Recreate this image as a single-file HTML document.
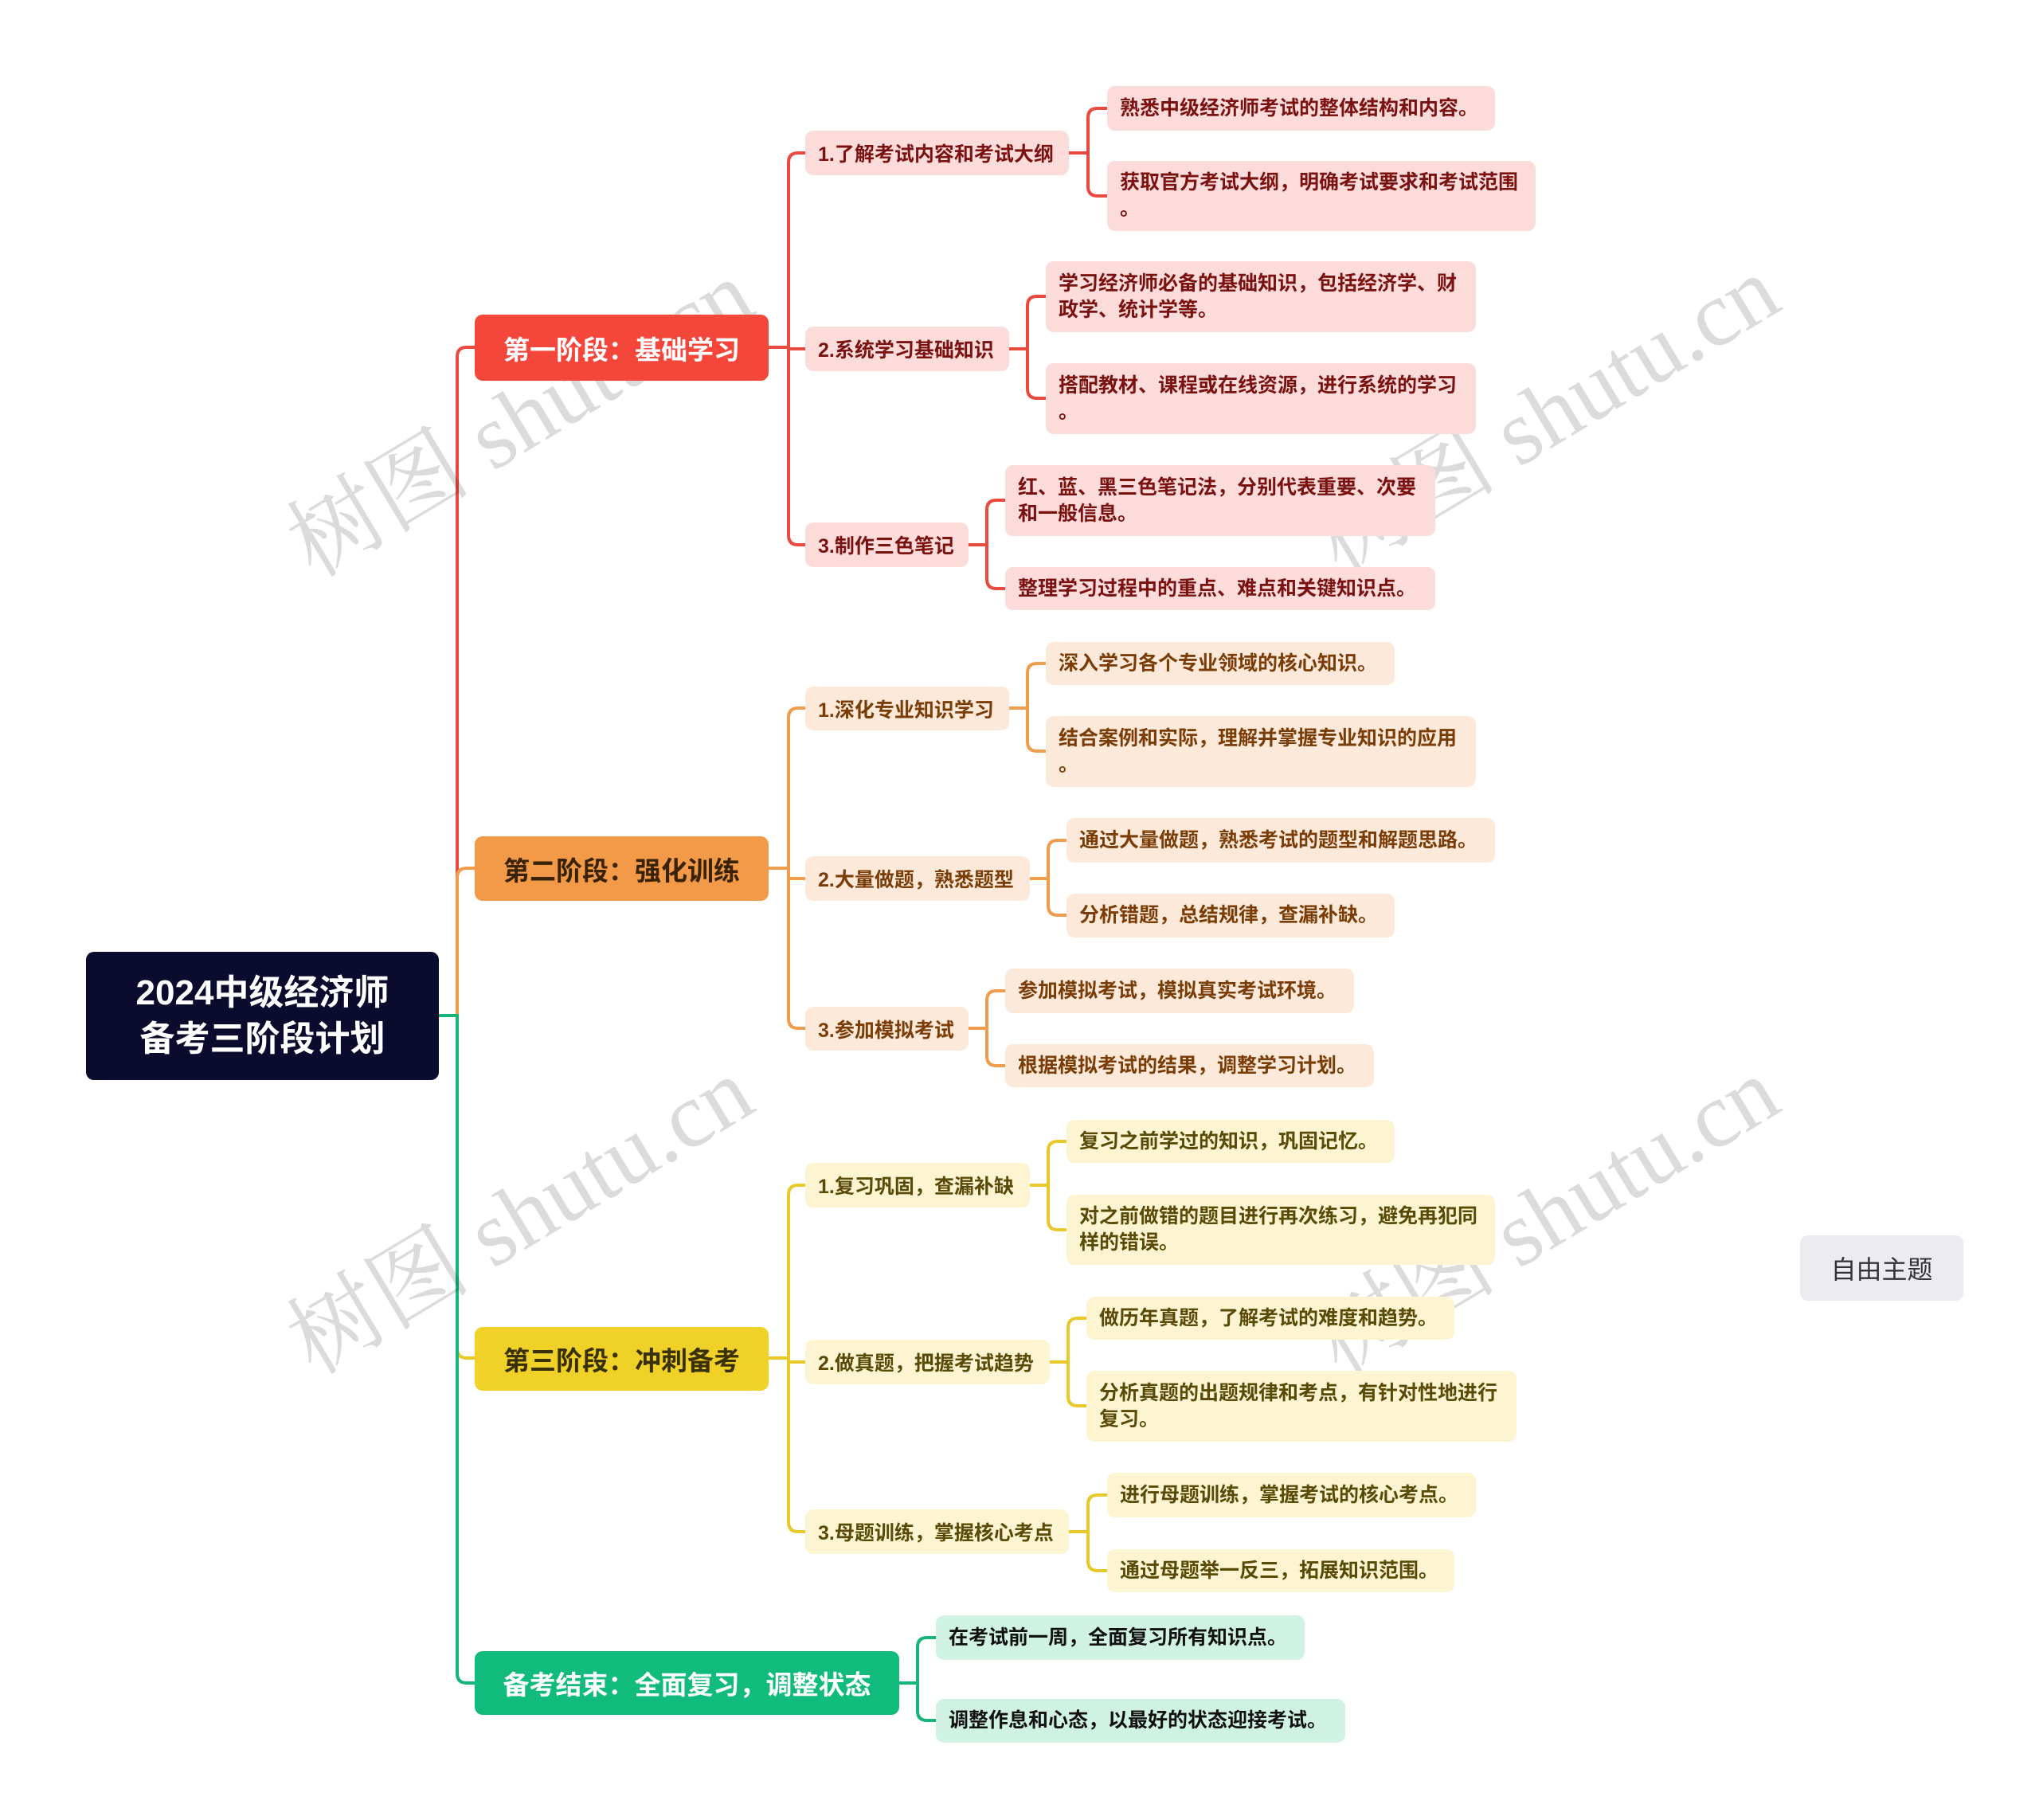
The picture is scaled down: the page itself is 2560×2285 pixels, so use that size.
<!DOCTYPE html>
<html><head><meta charset="utf-8"><style>
body{margin:0;width:2560px;height:2285px;background:#fff;position:relative;overflow:hidden;font-family:"Liberation Sans","Noto Sans CJK SC",sans-serif;}
.n{position:absolute;box-sizing:border-box;border-radius:10px;font-weight:bold;display:flex;align-items:center;white-space:nowrap;}
.l{font-size:25px;padding-left:16px;line-height:33px;white-space:normal;}
.k{font-size:25px;padding-left:16px;}
.s{font-size:33px;justify-content:center;color:#fff;}
.r1{background:#fcdcda;color:#7a1212}
.r2{background:#fde9d9;color:#7a3d08}
.r3{background:#fdf5d2;color:#5a4a08}
.r4{background:#d0f2e2;color:#111}
.wm{position:absolute;font-family:"Liberation Serif","Noto Serif CJK SC",serif;font-size:116px;color:rgba(0,0,0,0.14);transform:translate(-50%,-50%) rotate(-31deg);white-space:nowrap;}
</style></head><body>
<svg width="2560" height="2285" style="position:absolute;left:0;top:0" fill="none" stroke-width="4">
<g stroke="#e84a40">
<path d="M551 1275 H574 V448 Q574 436 586 436 H596"/>
<path d="M965 436 H990"/>
<path d="M990 436 V204 Q990 192 1002 192 H1011"/>
<path d="M990 436 V438 H1011"/>
<path d="M990 436 V672 Q990 684 1002 684 H1011"/>
<path d="M1342 192 H1366 V148 Q1366 136 1378 136 H1390 M1366 192 V234 Q1366 246 1378 246 H1390"/>
<path d="M1267 438 H1290 V384 Q1290 372 1302 372 H1313 M1290 438 V488 Q1290 500 1302 500 H1313"/>
<path d="M1216 684 H1239 V640 Q1239 628 1251 628 H1262 M1239 684 V727 Q1239 739 1251 739 H1262"/>
</g>
<g stroke="#ef9d4c">
<path d="M574 1275 V1102 Q574 1090 586 1090 H596"/>
<path d="M965 1090 H990 V901 Q990 889 1002 889 H1011 M990 1090 V1103 H1011 M990 1090 V1279 Q990 1291 1002 1291 H1011"/>
<path d="M1267 889 H1290 V845 Q1290 833 1302 833 H1313 M1290 889 V931 Q1290 943 1302 943 H1313"/>
<path d="M1293 1103 H1316 V1067 Q1316 1055 1328 1055 H1339 M1316 1103 V1137 Q1316 1149 1328 1149 H1339"/>
<path d="M1216 1291 H1239 V1256 Q1239 1244 1251 1244 H1262 M1239 1291 V1326 Q1239 1338 1251 1338 H1262"/>
</g>
<g stroke="#e9c82a">
<path d="M574 1275 V1693 Q574 1705 586 1705 H596"/>
<path d="M965 1705 H990 V1500 Q990 1488 1002 1488 H1011 M990 1705 V1710 H1011 M990 1705 V1911 Q990 1923 1002 1923 H1011"/>
<path d="M1293 1488 H1316 V1445 Q1316 1433 1328 1433 H1339 M1316 1488 V1532 Q1316 1544 1328 1544 H1339"/>
<path d="M1318 1710 H1341 V1667 Q1341 1655 1353 1655 H1364 M1341 1710 V1753 Q1341 1765 1353 1765 H1364"/>
<path d="M1342 1923 H1366 V1889 Q1366 1877 1378 1877 H1390 M1366 1923 V1960 Q1366 1972 1378 1972 H1390"/>
</g>
<g stroke="#17b57a">
<path d="M551 1275 H574 V2101 Q574 2113 586 2113 H596"/>
<path d="M1129 2113 H1152 V2068 Q1152 2056 1164 2056 H1175 M1152 2113 V2148 Q1152 2160 1164 2160 H1175"/>
</g>
</svg>

<div class="wm" style="left:648px;top:517px">树图 shutu.cn</div>
<div class="wm" style="left:1936px;top:512px">树图 shutu.cn</div>
<div class="wm" style="left:648px;top:1518px">树图 shutu.cn</div>
<div class="wm" style="left:1936px;top:1518px">树图 shutu.cn</div>

<div class="n" style="left:108px;top:1195px;width:443px;height:161px;background:#0b0b2e;color:#fff;font-size:44px;justify-content:center;text-align:center;line-height:58px;white-space:normal">2024中级经济师<br>备考三阶段计划</div>

<div class="n s" style="left:596px;top:395px;width:369px;height:83px;background:#f5463c">第一阶段：基础学习</div>
<div class="n s" style="left:596px;top:1050px;width:369px;height:81px;background:#f39a48;color:#3a2206">第二阶段：强化训练</div>
<div class="n s" style="left:596px;top:1666px;width:369px;height:80px;background:#f0d128;color:#3a3006">第三阶段：冲刺备考</div>
<div class="n s" style="left:596px;top:2073px;width:533px;height:80px;background:#10bb7c">备考结束：全面复习，调整状态</div>

<div class="n k r1" style="left:1011px;top:164px;width:331px;height:56px">1.了解考试内容和考试大纲</div>
<div class="n k r1" style="left:1011px;top:410px;width:256px;height:56px">2.系统学习基础知识</div>
<div class="n k r1" style="left:1011px;top:656px;width:205px;height:56px">3.制作三色笔记</div>
<div class="n l r1" style="left:1390px;top:108px;width:487px;height:56px">熟悉中级经济师考试的整体结构和内容。</div>
<div class="n l r1" style="left:1390px;top:202px;width:538px;height:88px">获取官方考试大纲，明确考试要求和考试范围<br>。</div>
<div class="n l r1" style="left:1313px;top:328px;width:540px;height:89px">学习经济师必备的基础知识，包括经济学、财<br>政学、统计学等。</div>
<div class="n l r1" style="left:1313px;top:456px;width:540px;height:89px">搭配教材、课程或在线资源，进行系统的学习<br>。</div>
<div class="n l r1" style="left:1262px;top:584px;width:540px;height:89px">红、蓝、黑三色笔记法，分别代表重要、次要<br>和一般信息。</div>
<div class="n l r1" style="left:1262px;top:712px;width:540px;height:54px">整理学习过程中的重点、难点和关键知识点。</div>

<div class="n k r2" style="left:1011px;top:862px;width:256px;height:55px">1.深化专业知识学习</div>
<div class="n k r2" style="left:1011px;top:1075px;width:282px;height:56px">2.大量做题，熟悉题型</div>
<div class="n k r2" style="left:1011px;top:1264px;width:205px;height:55px">3.参加模拟考试</div>
<div class="n l r2" style="left:1313px;top:806px;width:438px;height:54px">深入学习各个专业领域的核心知识。</div>
<div class="n l r2" style="left:1313px;top:899px;width:540px;height:89px">结合案例和实际，理解并掌握专业知识的应用<br>。</div>
<div class="n l r2" style="left:1339px;top:1027px;width:538px;height:56px">通过大量做题，熟悉考试的题型和解题思路。</div>
<div class="n l r2" style="left:1339px;top:1122px;width:412px;height:55px">分析错题，总结规律，查漏补缺。</div>
<div class="n l r2" style="left:1262px;top:1216px;width:438px;height:56px">参加模拟考试，模拟真实考试环境。</div>
<div class="n l r2" style="left:1262px;top:1311px;width:463px;height:54px">根据模拟考试的结果，调整学习计划。</div>

<div class="n k r3" style="left:1011px;top:1460px;width:282px;height:56px">1.复习巩固，查漏补缺</div>
<div class="n k r3" style="left:1011px;top:1682px;width:307px;height:56px">2.做真题，把握考试趋势</div>
<div class="n k r3" style="left:1011px;top:1895px;width:331px;height:56px">3.母题训练，掌握核心考点</div>
<div class="n l r3" style="left:1339px;top:1406px;width:412px;height:54px">复习之前学过的知识，巩固记忆。</div>
<div class="n l r3" style="left:1339px;top:1500px;width:538px;height:88px">对之前做错的题目进行再次练习，避免再犯同<br>样的错误。</div>
<div class="n l r3" style="left:1364px;top:1628px;width:462px;height:54px">做历年真题，了解考试的难度和趋势。</div>
<div class="n l r3" style="left:1364px;top:1721px;width:540px;height:89px">分析真题的出题规律和考点，有针对性地进行<br>复习。</div>
<div class="n l r3" style="left:1390px;top:1849px;width:463px;height:56px">进行母题训练，掌握考试的核心考点。</div>
<div class="n l r3" style="left:1390px;top:1945px;width:436px;height:54px">通过母题举一反三，拓展知识范围。</div>

<div class="n l r4" style="left:1175px;top:2028px;width:463px;height:56px">在考试前一周，全面复习所有知识点。</div>
<div class="n l r4" style="left:1175px;top:2133px;width:514px;height:55px">调整作息和心态，以最好的状态迎接考试。</div>

<div class="n" style="left:2260px;top:1551px;width:205px;height:82px;background:#ececf0;color:#333;font-weight:normal;font-size:32px;justify-content:center">自由主题</div>
</body></html>
